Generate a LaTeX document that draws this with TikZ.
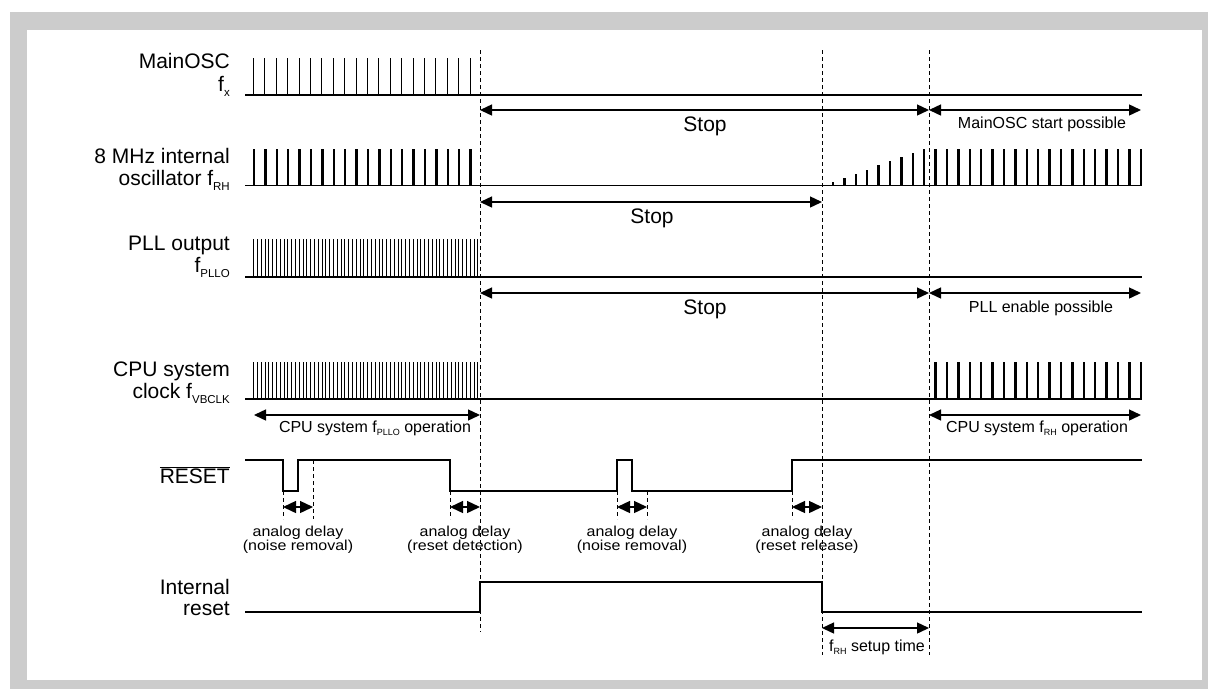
\documentclass[tikz,border=0pt]{standalone}
\usepackage{fontspec}
\setmainfont{Liberation Sans}
\usetikzlibrary{arrows.meta}
\definecolor{framegray}{RGB}{204,204,204}
\newcommand{\mysub}[1]{\raisebox{-5pt}{\fontsize{11.5}{11.5}\selectfont #1}}
\newcommand{\mysmallsub}[1]{\raisebox{-3.5pt}{\fontsize{9}{9}\selectfont #1}}
\begin{document}
\begin{tikzpicture}[x=1pt,y=-1pt,
  sig/.style={line width=1.4pt, line join=miter},
  thintick/.style={line width=0.9pt},
  densetick/.style={line width=0.7pt},
  thicktick/.style={line width=2.3pt},
  dline/.style={line width=0.9pt, dash pattern=on 4pt off 3pt},
  dimarrow/.style={line width=1.4pt, {Triangle[length=12pt,width=11pt]}-{Triangle[length=12pt,width=11pt]}},
  delayarrow/.style={line width=1.4pt, {Triangle[length=13pt,width=12pt]}-{Triangle[length=13pt,width=12pt]}},
  lbl/.style={font=\fontsize{21}{23}\selectfont, anchor=base east, inner sep=0pt},
  big/.style={font=\fontsize{21}{23}\selectfont, anchor=base, inner sep=0pt},
  small/.style={font=\fontsize{16}{18}\selectfont, anchor=base, inner sep=0pt},
  adtext/.style={font=\fontsize{16}{16}\selectfont, anchor=base, inner sep=0pt}
]
\useasboundingbox (0,0) rectangle (1208,689);
\fill[white] (0,0) rectangle (1208,689);
\fill[framegray] (10,12) rectangle (1208,689);
\fill[white] (27,30) rectangle (1202,680);

% ---------- left labels ----------
\node[lbl] (l1a) at (230,68) {MainOSC};
\node[lbl] (l1b) at (230,91) {f\mysub{x}};
\node[lbl] (l2a) at (230,163) {8 MHz internal};
\node[lbl] (l2b) at (230,185) {oscillator f\mysub{RH}};
\node[lbl] (l3a) at (230,250) {PLL output};
\node[lbl] (l3b) at (230,272) {f\mysub{PLLO}};
\node[lbl] (l4a) at (230,376) {CPU system};
\node[lbl] (l4b) at (230,398) {clock f\mysub{VBCLK}};
\node[lbl] (l5) at (230,483) {$\overline{\mbox{RESET}}$};
\node[lbl] (l6a) at (230,594) {Internal};
\node[lbl] (l6b) at (230,615) {reset};

% ---------- dashed time markers ----------
\coordinate (t1top) at (480,50);  \coordinate (t1bot) at (480,632);
\coordinate (t2top) at (822,50);  \coordinate (t2bot) at (822,655);
\coordinate (t3top) at (929,50);  \coordinate (t3bot) at (929,655);
\draw[dline] (t1top) -- (t1bot);
\draw[dline] (t2top) -- (t2bot);
\draw[dline] (t3top) -- (t3bot);

% ---------- MainOSC ----------
\draw[sig] (245,95) -- (1142,95);
\foreach \i in {0,...,19} \draw[thintick] ({253.5+11.4*\i},95) -- ++(0,-37);
\coordinate (s1a) at (480,110); \coordinate (s1b) at (929,110); \coordinate (s1c) at (1141,110);
\draw[dimarrow] (s1a) -- (s1b);
\draw[dimarrow] (s1b) -- (s1c);
\node[big] (stop1) at (705,131) {Stop};
\node[small] (mstart) at (1042,128.5) {MainOSC start possible};

% ---------- 8 MHz ----------
\draw[sig] (245,185.5) -- (1142,185.5);
\foreach \i in {0,...,19} \draw[thicktick] ({254+11.4*\i},185.5) -- ++(0,-36.5);
\foreach \k in {0,...,27} {
  \pgfmathsetmacro\h{min(3.3+4.2*\k,36.5)}
  \draw[thicktick] ({833+11.4*\k},185.5) -- ++(0,-\h);
}
\coordinate (s2a) at (480,202); \coordinate (s2b) at (822,202);
\draw[dimarrow] (s2a) -- (s2b);
\node[big] (stop2) at (652,223) {Stop};

% ---------- PLL ----------
\draw[sig] (245,277) -- (1142,277);
\foreach \i in {0,...,59} \draw[densetick] ({253.5+3.8*\i},277) -- ++(0,-38);
\coordinate (s3a) at (480,293); \coordinate (s3b) at (929,293); \coordinate (s3c) at (1141,293);
\draw[dimarrow] (s3a) -- (s3b);
\draw[dimarrow] (s3b) -- (s3c);
\node[big] (stop3) at (705,314) {Stop};
\node[small] (pllen) at (1041,312) {PLL enable possible};

% ---------- CPU clock ----------
\draw[sig] (245,399) -- (1142,399);
\foreach \i in {0,...,59} \draw[densetick] ({253.5+3.8*\i},399) -- ++(0,-37);
\foreach \j in {0,...,18} \draw[thicktick] ({935.6+11.4*\j},399) -- ++(0,-37);
\coordinate (c1a) at (254,415); \coordinate (c1b) at (480,415);
\coordinate (c2a) at (929,415); \coordinate (c2b) at (1141,415);
\draw[dimarrow] (c1a) -- (c1b);
\draw[dimarrow] (c2a) -- (c2b);
\node[small] (cpupll) at (375,432) {CPU system f\mysmallsub{PLLO} operation};
\node[small] (cpurh) at (1037,432) {CPU system f\mysmallsub{RH} operation};

% ---------- RESET ----------
\draw[sig] (245,460) -- (283,460) -- (283,491) -- (298,491) -- (298,460) -- (450,460)
  -- (450,491) -- (617,491) -- (617,460) -- (632,460) -- (632,491) -- (792,491)
  -- (792,460) -- (1142,460);
\draw[dline] (283,491) -- (283,519);
\draw[dline] (313,460) -- (313,519);
\draw[dline] (450,491) -- (450,519);
\draw[dline] (617,491) -- (617,519);
\draw[dline] (647,491) -- (647,519);
\draw[dline] (792,491) -- (792,519);
\coordinate (a1a) at (283,507); \coordinate (a1b) at (313,507);
\coordinate (a2a) at (450,507); \coordinate (a2b) at (480,507);
\coordinate (a3a) at (617,507); \coordinate (a3b) at (647,507);
\coordinate (a4a) at (792,507); \coordinate (a4b) at (822,507);
\draw[delayarrow] (a1a) -- (a1b);
\draw[delayarrow] (a2a) -- (a2b);
\draw[delayarrow] (a3a) -- (a3b);
\draw[delayarrow] (a4a) -- (a4b);
\node[adtext] (ad1a) at (298,536) {\scalebox{1}[0.9]{analog delay}};
\node[adtext] (ad1b) at (298,550) {\scalebox{1}[0.9]{(noise removal)}};
\node[adtext] (ad2a) at (465,536) {\scalebox{1}[0.9]{analog delay}};
\node[adtext] (ad2b) at (465,550) {\scalebox{1}[0.9]{(reset detection)}};
\node[adtext] (ad3a) at (632,536) {\scalebox{1}[0.9]{analog delay}};
\node[adtext] (ad3b) at (632,550) {\scalebox{1}[0.9]{(noise removal)}};
\node[adtext] (ad4a) at (807,536) {\scalebox{1}[0.9]{analog delay}};
\node[adtext] (ad4b) at (807,550) {\scalebox{1}[0.9]{(reset release)}};

% ---------- Internal reset ----------
\draw[sig] (245,612) -- (480,612) -- (480,582) -- (822,582) -- (822,612) -- (1142,612);
\coordinate (f1a) at (822,628); \coordinate (f1b) at (929,628);
\draw[dimarrow] (f1a) -- (f1b);
\node[small] (frh) at (877,651) {f\mysmallsub{RH} setup time};
\end{tikzpicture}
\end{document}
